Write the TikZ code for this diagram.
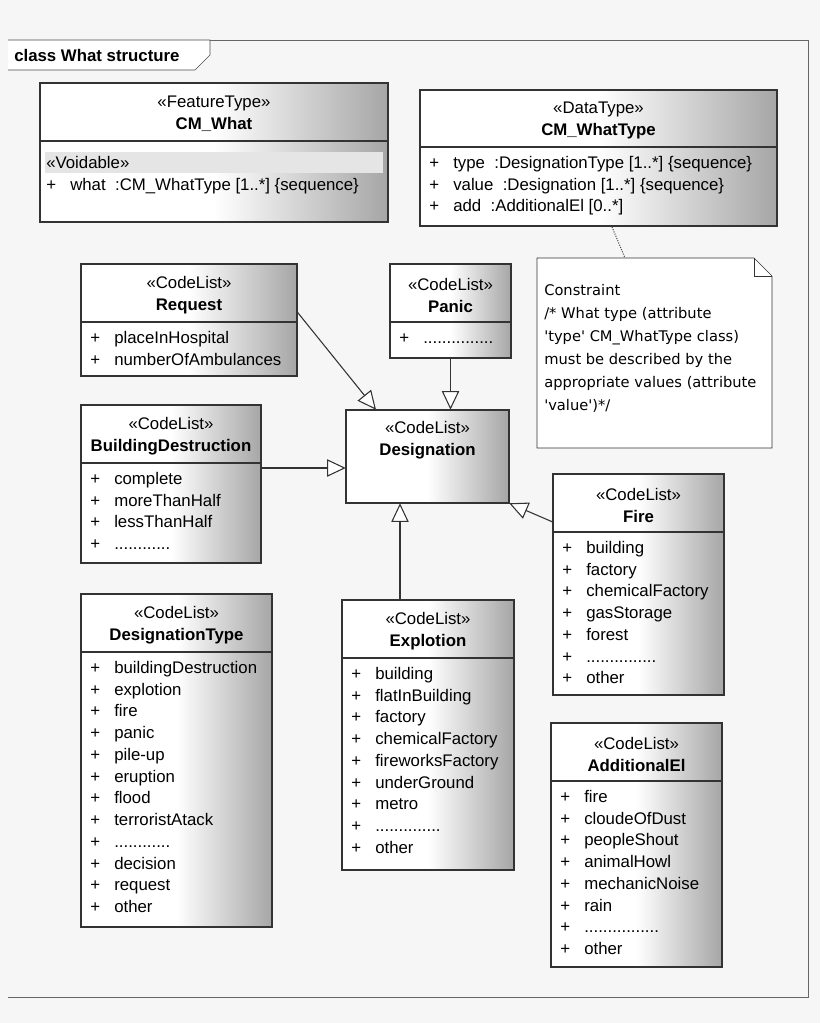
\documentclass[tikz,border=0pt]{standalone}
\usepackage{fontspec}
\setmainfont{Liberation Sans}
\newfontfamily\notefont{DejaVu Sans}
\usetikzlibrary{arrows.meta,fit,shapes.misc}
\pgfdeclarehorizontalshading{umlfill}{100bp}{color(0bp)=(white); color(50bp)=(white); color(75bp)=(black!35); color(100bp)=(black!35)}
\definecolor{bg}{RGB}{246,246,246}
\tikzset{
    cls/.style={draw=black!80, thick, shading=umlfill},
    gen/.style={thick, draw=black!80, -{Triangle[open, fill=white, length=14pt, width=13pt]}},
    rows/.style={anchor=north west, inner sep=0pt, font=\fontsize{12.6}{16.3}\selectfont},
    head/.style={inner sep=0pt, align=center, font=\fontsize{12.6}{16.5}\selectfont}
}
% name, x1, y1, x2, y2, divider, stereotype, title, rows
\newcommand{\umlbox}[9]{%
    \path[cls] (#2,#3) rectangle (#4,#5);
    \draw[thick, black!80] (#2,#6) -- (#4,#6);
    \node[inner sep=0pt, fit={(#2,#3) (#4,#5)}] (#1) {};
    \node[head] (#1-head) at ({(#2+#4)/2},{#6-27}) {«#7»\\\textbf{#8}};
    \node[rows] (#1-rows) at ({#2+9},{#6+6}) {\begin{tabular}{@{}p{18pt}@{}l@{}}#9\end{tabular}};
}
\begin{document}
\begin{tikzpicture}[x=0.75pt, y=-0.75pt]
    \fill[bg] (0,0) rectangle (820,1023);
    \useasboundingbox (0,0) rectangle (820,1023);
    % frame
    \draw[black!60] (8,40) -- (808,40) -- (808,997) -- (8,997);
    \path[fill=white, draw=black!70] (8,40) -- (210,40) -- (210,55) -- (195,70) -- (8,70);
    \node[anchor=west, inner sep=0pt, font=\fontsize{12.6}{14}\selectfont\bfseries] (frame-title) at (14,55) {class What structure};
    % data types
    \path[cls] (40,83) rectangle (388,222);
    \draw[thick, black!80] (40,141) -- (388,141);
    \node[inner sep=0pt, fit={(40,83) (388,222)}] (what) {};
    \node[head] (what-head) at (214,114) {«FeatureType»\\\textbf{CM\_What}};
    \fill[black!10] (45,152) rectangle (383,173);
    \node[rows] (what-rows) at (46,153) {\begin{tabular}{@{}p{18pt}@{}l@{}}\multicolumn{2}{@{}l@{}}{«Voidable»}\\+ & what\ \ :CM\_WhatType [1..*] \{sequence\}\end{tabular}};
    \umlbox{whattype}{420}{90}{777}{226}{147}{DataType}{CM\_WhatType}{+ & type\ \ :DesignationType [1..*] \{sequence\}\\+ & value\ \ :Designation [1..*] \{sequence\}\\+ & add\ \ :AdditionalEl [0..*]}
    % constraint note
    \path[fill=white, draw=black!80] (537,258) -- (754,258) -- (772,276) -- (772,448) -- (537,448) -- cycle;
    \draw[black!80] (754,258) -- (754,276) -- (772,276);
    \node[inner sep=0pt, fit={(537,258) (772,448)}] (note) {};
    \node[anchor=north west, inner sep=0pt, align=left, font=\notefont\fontsize{11}{17.2}\selectfont] (note-text) at (544,284) {Constraint\\/* What type (attribute\\'type' CM\_WhatType class)\\must be described by the\\appropriate values (attribute\\'value')*/};
    \coordinate (note-top) at (625,258);
    \draw[thick, densely dotted, black!70] (612,227) -- (note-top);
    % code lists
    \umlbox{request}{81}{264}{297}{376}{322}{CodeList}{Request}{+ & placeInHospital\\+ & numberOfAmbulances}
    \umlbox{panic}{390}{264}{511}{358}{322}{CodeList}{Panic}{+ & ...............}
    \path[cls] (346,410) rectangle (509,503);
    \node[inner sep=0pt, fit={(346,410) (509,503)}] (designation) {};
    \node[head] (designation-head) at (427.5,440) {«CodeList»\\\textbf{Designation}};
    \umlbox{building}{81}{405}{261}{563}{463}{CodeList}{BuildingDestruction}{+ & complete\\+ & moreThanHalf\\+ & lessThanHalf\\+ & ............}
    \umlbox{fire}{553}{474}{724}{695}{532}{CodeList}{Fire}{+ & building\\+ & factory\\+ & chemicalFactory\\+ & gasStorage\\+ & forest\\+ & ...............\\+ & other}
    \umlbox{desigtype}{81}{594}{272}{927}{652}{CodeList}{DesignationType}{+ & buildingDestruction\\+ & explotion\\+ & fire\\+ & panic\\+ & pile-up\\+ & eruption\\+ & flood\\+ & terroristAtack\\+ & ............\\+ & decision\\+ & request\\+ & other}
    \umlbox{explotion}{342}{600}{514}{870}{658}{CodeList}{Explotion}{+ & building\\+ & flatInBuilding\\+ & factory\\+ & chemicalFactory\\+ & fireworksFactory\\+ & underGround\\+ & metro\\+ & ..............\\+ & other}
    \umlbox{additional}{551}{723}{722}{967}{781}{CodeList}{AdditionalEl}{+ & fire\\+ & cloudeOfDust\\+ & peopleShout\\+ & animalHowl\\+ & mechanicNoise\\+ & rain\\+ & ................\\+ & other}
    % generalizations
    \draw[gen] (request.east |- 0,312) -- (designation.north west -| 376,0);
    \draw[gen] (panic.south) -- (panic.south |- designation.north);
    \draw[gen] (building.east |- 0,468) -- (designation.west |- 0,468);
    \draw[gen] (fire.west |- 0,522) -- (designation.south east);
    \draw[gen] (explotion.north -| 400,0) -- (designation.south -| 400,0);
\end{tikzpicture}
\end{document}
